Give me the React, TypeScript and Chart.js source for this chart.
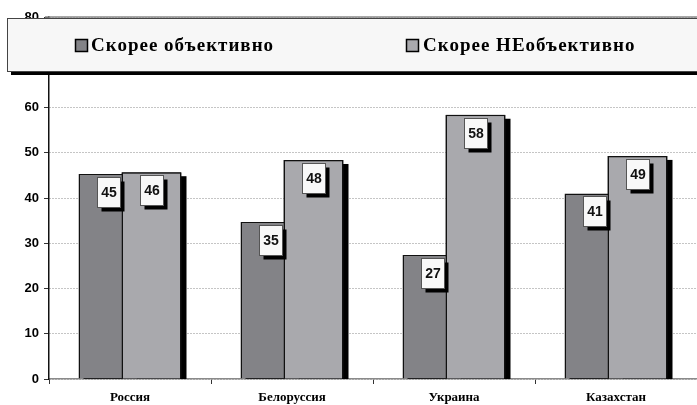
import React, { useEffect, useRef } from 'react';
import { Chart, registerables } from 'chart.js';

Chart.register(...registerables);

const categories = ['Россия', 'Белоруссия', 'Украина', 'Казахстан'];
const seriesNames = ['Скорее объективно', 'Скорее НЕобъективно'];
const objective = [45.3, 34.7, 27.4, 41.0];
const notObjective = [45.7, 48.4, 58.4, 49.3];
const yMin = 0;
const yMax = 80;
const yStep = 10;

const darkColor = '#838387';
const lightColor = '#a9a9ad';

const barShadowPlugin = {
  id: 'barShadow',
  beforeDatasetsDraw(chart: any) {
    const { ctx, chartArea } = chart;
    ctx.save();
    ctx.strokeStyle = '#8a8a8a';
    ctx.lineWidth = 1.5;
    ctx.beginPath();
    ctx.moveTo(chartArea.left - 4, chartArea.top);
    ctx.lineTo(chartArea.right, chartArea.top);
    ctx.stroke();
    ctx.beginPath();
    ctx.rect(chartArea.left, chartArea.top, chartArea.right - chartArea.left, chartArea.bottom - chartArea.top);
    ctx.clip();
    ctx.fillStyle = '#000';
    chart.data.datasets.forEach((_: any, di: number) => {
      const meta = chart.getDatasetMeta(di);
      meta.data.forEach((el: any) => {
        const p = el.getProps(['x', 'y', 'base', 'width'], true);
        ctx.fillRect(p.x - p.width / 2 + 5, p.y + 4, p.width, p.base - p.y);
      });
    });
    ctx.restore();
  },
};

// Chart.js paints the first dataset on top; repaint the second one so it overlaps the first.
const overlapPlugin = {
  id: 'overlap',
  afterDatasetsDraw(chart: any) {
    const meta = chart.getDatasetMeta(1);
    chart.ctx.save();
    meta.controller.draw();
    chart.ctx.restore();
  },
};

const labelBoxPlugin = {
  id: 'labelBox',
  afterDatasetsDraw(chart: any) {
    const { ctx } = chart;
    ctx.save();
    chart.data.datasets.forEach((ds: any, di: number) => {
      const meta = chart.getDatasetMeta(di);
      meta.data.forEach((el: any, i: number) => {
        const p = el.getProps(['x', 'y'], true);
        const w = 23;
        const h = 30;
        const bx = Math.round(p.x - w / 2) + 0.5;
        const by = Math.round(p.y + 3) + 0.5;
        ctx.fillStyle = '#000';
        ctx.fillRect(bx + 4, by + 4, w, h);
        ctx.fillStyle = '#f8f8f8';
        ctx.fillRect(bx, by, w, h);
        ctx.strokeStyle = '#555';
        ctx.lineWidth = 1;
        ctx.strokeRect(bx, by, w, h);
        ctx.fillStyle = '#111';
        ctx.font = 'bold 14px "Liberation Sans", Arial, sans-serif';
        ctx.textAlign = 'center';
        ctx.textBaseline = 'middle';
        ctx.fillText(String(Math.round(ds.data[i])), bx + w / 2, by + h / 2 + 1);
      });
    });
    ctx.restore();
  },
};

const legendBoxPlugin = {
  id: 'legendBox',
  afterDraw(chart: any) {
    const { ctx } = chart;
    ctx.save();
    const x0 = 7;
    const y0 = 18;
    const w = 700;
    const h = 53;
    ctx.fillStyle = '#000';
    ctx.fillRect(x0 + 4, y0 + 4, w, h);
    ctx.fillStyle = '#f7f7f7';
    ctx.fillRect(x0, y0, w, h);
    ctx.strokeStyle = '#444';
    ctx.lineWidth = 1;
    ctx.strokeRect(x0 + 0.5, y0 + 0.5, w, h);
    const items = [
      { mx: 75, tx: 91, color: darkColor, text: seriesNames[0] },
      { mx: 406, tx: 423, color: lightColor, text: seriesNames[1] },
    ];
    const cy = 45;
    items.forEach((it) => {
      ctx.fillStyle = it.color;
      ctx.fillRect(it.mx, cy - 6, 12, 12);
      ctx.strokeStyle = '#000';
      ctx.lineWidth = 1.5;
      ctx.strokeRect(it.mx + 0.5, cy - 5.5, 12, 12);
      ctx.fillStyle = '#000';
      ctx.font = 'bold 19px "Liberation Serif", "Times New Roman", serif';
      (ctx as any).letterSpacing = '1px';
      ctx.textAlign = 'left';
      ctx.textBaseline = 'middle';
      ctx.fillText(it.text, it.tx, cy + 1);
      (ctx as any).letterSpacing = '0px';
    });
    ctx.restore();
  },
};

export default function App() {
  const ref = useRef<HTMLCanvasElement>(null);
  useEffect(() => {
    if (!ref.current) return;
    const chart = new Chart(ref.current, {
      type: 'bar',
      data: {
        labels: categories,
        datasets: [
          {
            label: seriesNames[0],
            data: objective,
            backgroundColor: darkColor,
            borderColor: '#111',
            borderWidth: 1.5,
            categoryPercentage: 86 / 162,
            barPercentage: 60 / 43,
          },
          {
            label: seriesNames[1],
            data: notObjective,
            backgroundColor: lightColor,
            borderColor: '#111',
            borderWidth: 1.5,
            categoryPercentage: 86 / 162,
            barPercentage: 60 / 43,
          },
        ],
      },
      options: {
        responsive: false,
        animation: false,
        layout: { padding: { top: 17, right: 0, left: 0, bottom: 0 } },
        plugins: {
          legend: { display: false },
          tooltip: { enabled: false },
        },
        scales: {
          x: {
            afterFit: (s: any) => { s.height = 26; },
            grid: {
              offset: true,
              drawOnChartArea: false,
              drawTicks: true,
              tickLength: 5,
              tickColor: '#333',
            },
            border: { display: true, color: '#8a8a8a', width: 1.5 },
            ticks: {
              color: '#000',
              padding: 6,
              font: { family: '"Liberation Serif", "Times New Roman", serif', size: 13, weight: 'bold' },
            },
          },
          y: {
            min: yMin,
            max: yMax,
            afterFit: (s: any) => { s.width = 49; },
            grid: {
              color: '#8a8a8a',
              lineWidth: 1,
              tickLength: 5,
              tickColor: '#333',
              tickBorderDash: [],
            },
            border: { display: true, color: '#111', width: 1.5, dash: [1, 2] },
            ticks: {
              stepSize: yStep,
              color: '#000',
              padding: 5,
              font: { family: '"Liberation Sans", Arial, sans-serif', size: 13, weight: 'bold' },
            },
          },
        },
      },
      plugins: [barShadowPlugin, overlapPlugin, labelBoxPlugin, legendBoxPlugin],
    } as any);
    return () => chart.destroy();
  }, []);
  return (
    <div style={{ position: 'absolute', left: 0, top: 0, width: 697, height: 405, background: '#fff' }}>
      <canvas ref={ref} width={697} height={405} />
    </div>
  );
}
